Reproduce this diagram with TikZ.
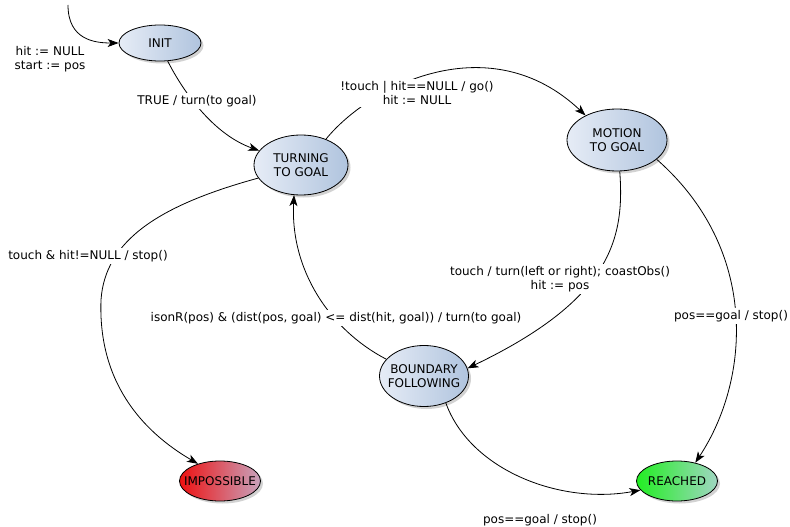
\documentclass[tikz,border=0pt]{standalone}
\usepackage{fontspec}
\setmainfont{DejaVu Sans}
\usetikzlibrary{shapes.geometric,arrows.meta,shadows}
\definecolor{stL}{HTML}{E6ECF6}
\definecolor{stR}{HTML}{B0C4DE}
\definecolor{redL}{HTML}{EE1111}
\definecolor{redR}{HTML}{C8A3BD}
\definecolor{grnL}{HTML}{22EE22}
\definecolor{grnR}{HTML}{A0D6C2}
\begin{document}
\begin{tikzpicture}[x=1pt,y=-1pt,
  font=\fontsize{12}{14}\selectfont,
  state/.style={ellipse,draw=black,line width=0.8pt,inner ysep=0pt,inner xsep=-20pt,align=center,
    left color=stL,right color=stR,
    drop shadow={opacity=0.35,shadow xshift=2.5pt,shadow yshift=-2.5pt}},
  bad/.style={state,left color=redL,right color=redR},
  good/.style={state,left color=grnL,right color=grnR},
  conn/.style={line width=0.8pt,-{Stealth[length=11pt,width=8pt,inset=3pt]}},
  lbl/.style={fill=white,inner sep=2.5pt,align=center}]
\useasboundingbox (0,0) rectangle (790,527);
\fill[white] (0,0) rectangle (790,527);
% states
\node[state,minimum width=82pt,minimum height=36pt] (init) at (160,43) {INIT};
\node[state,minimum width=94pt,minimum height=60pt] (turn) at (301,165) {TURNING\\TO GOAL};
\node[state,minimum width=100pt,minimum height=62pt] (mot) at (617,140) {MOTION\\TO GOAL};
\node[state,minimum width=89pt,minimum height=61pt] (bound) at (424,376) {BOUNDARY\\FOLLOWING};
\node[bad,minimum width=81pt,minimum height=40pt] (imp) at (220,481) {IMPOSSIBLE};
\node[good,minimum width=81pt,minimum height=40pt] (reach) at (677,481) {REACHED};
\coordinate (start) at (68,5);
% connectors
\draw[conn] (start) .. controls (68,40) and (95,43) .. (init.west);
\draw[conn] (init.-67) .. controls (185,95) and (215,135) .. (turn.161);
\draw[conn] (turn.46) .. controls (370,85) and (490,25) .. (mot.142);
\draw[conn] (turn.197) .. controls (160,205) and (105,240) .. (101,300)
   .. controls (98,380) and (140,430) .. (imp.142);
\draw[conn] (bound.156) .. controls (330,330) and (290,270) .. (turn.-103);
\draw[conn] (mot.-85) .. controls (625,240) and (610,300) .. (bound.10);
\draw[conn] (mot.-26) .. controls (760,250) and (750,380) .. (reach.45);
\draw[conn] (bound.-51) .. controls (470,470) and (560,505) .. (reach.194);
% labels
\node[lbl] (l0) at (50,59) {hit := NULL\\start := pos};
\node[lbl] (l1) at (197,101) {TRUE / turn(to goal)};
\node[lbl] (l2) at (417,93) {!touch | hit==NULL / go()\\hit := NULL};
\node[lbl] (l3) at (88,256) {touch \& hit!=NULL / stop()};
\node[lbl] (l4) at (336,318) {isonR(pos) \& (dist(pos, goal) <= dist(hit, goal)) / turn(to goal)};
\node[lbl] (l5) at (560,279) {touch / turn(left or right); coastObs()\\hit := pos};
\node[lbl] (l6) at (731,316) {pos==goal / stop()};
\node[lbl] (l7) at (540,520) {pos==goal / stop()};
\end{tikzpicture}
\end{document}
